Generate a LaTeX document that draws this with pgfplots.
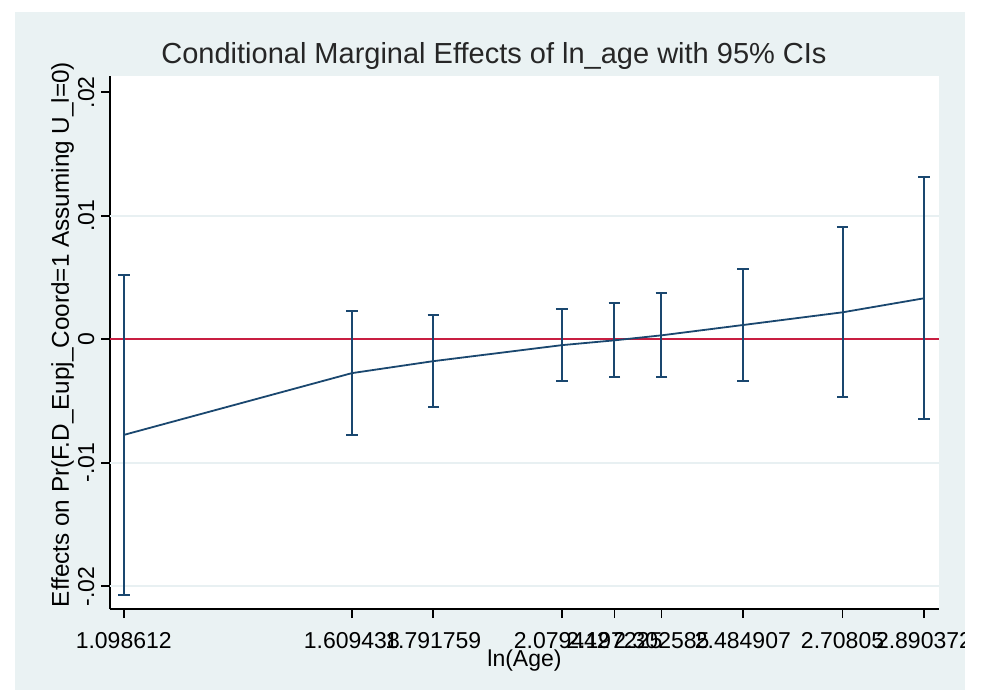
\documentclass[border=0pt]{standalone}
\usepackage{pgfplots}
\pgfplotsset{compat=1.18}
\usepackage{fontspec}
\setmainfont{Liberation Sans}
\definecolor{bgblue}{RGB}{234,242,243}
\definecolor{gridc}{RGB}{232,240,242}
\definecolor{navy}{RGB}{26,71,111}
\definecolor{zred}{RGB}{200,30,65}
\begin{document}
\begin{tikzpicture}[x=1pt,y=1pt]
\path[use as bounding box, fill=white] (0,0) rectangle (985,-690);
\fill[bgblue] (15,-12) rectangle (965,-690);
\node[font=\fontsize{29}{34}\selectfont, anchor=base, inner sep=0pt, text=black!85] at (494,-63.5) {Conditional Marginal Effects of ln\_age with 95\% CIs};
\begin{axis}[
  at={(110pt,-609pt)}, anchor=south west,
  width=829pt, height=533pt, scale only axis,
  axis background/.style={fill=white},
  xmin=1.0679, xmax=2.924, ymin=-0.02184, ymax=0.02132,
  axis x line*=bottom, axis y line*=left,
  axis line style={line width=1.8pt, -, black},
  tick align=outside, major tick length=9pt,
  tick style={line width=1.8pt, black},
  minor tick num=0,
  scaled y ticks=false, scaled x ticks=false,
  xtick={1.098612,1.609438,1.791759,2.079442,2.197225,2.302585,2.484907,2.70805,2.890372},
  xticklabels={1.098612,1.609438,1.791759,2.079442,2.197225,2.302585,2.484907,2.70805,2.890372},
  ytick={-0.02,-0.01,0,0.01,0.02},
  yticklabels={-.02,-.01,0,.01,.02},
  xticklabel shift=14pt,
  yticklabel shift=7pt,
  xticklabel style={font=\fontsize{23}{27}\selectfont, anchor=north, inner sep=0pt},
  yticklabel style={font=\fontsize{23}{27}\selectfont, rotate=90, anchor=base, inner sep=0pt},
  extra y ticks={-0.02,-0.01,0.01},
  extra y tick labels={},
  extra y tick style={grid=major, major grid style={gridc, line width=1.8pt}, major tick length=0pt, tick style={draw=none}},
  xlabel={ln(Age)},
  xlabel style={font=\fontsize{23}{27}\selectfont, at={(axis description cs:0.5,-0.1088)}, anchor=base, inner sep=0pt},
  ylabel={Effects on Pr(F.D\_Eupj\_Coord=1 Assuming U\_l=0)},
  ylabel style={font=\fontsize{24.3}{28}\selectfont, at={(axis description cs:-0.0495,0.515)}, anchor=base, inner sep=0pt},
  clip=true,
]
\addplot[zred, line width=1.8pt, forget plot] coordinates {(1.0679,0) (2.924,0)};
\addplot[navy, line width=1.8pt, mark=none,
  error bars/.cd, y dir=both, y explicit,
  error bar style={line width=2pt, navy},
  error mark=-,
  error mark options={rotate=90, navy, line width=2pt, mark size=5.8pt}]
coordinates {
(1.098612,-0.007745) +- (0,0.012955)
(1.609438,-0.00274) +- (0,0.00503)
(1.791759,-0.00177) +- (0,0.00374)
(2.079442,-0.000475) +- (0,0.002905)
(2.197225,-0.000085) +- (0,0.002995)
(2.302585,0.00032) +- (0,0.0034)
(2.484907,0.001155) +- (0,0.004535)
(2.70805,0.002185) +- (0,0.006885)
(2.890372,0.00332) +- (0,0.0098)
};
\end{axis}
\fill[white] (965,0) rectangle (985,-690);
\end{tikzpicture}
\end{document}
